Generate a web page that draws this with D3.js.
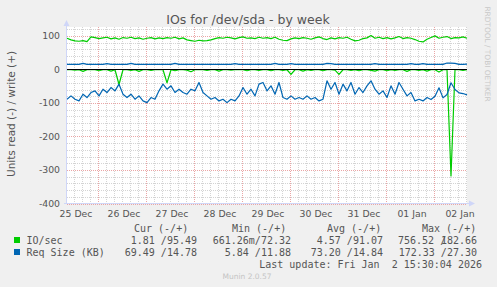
<!DOCTYPE html>
<html lang="en">
<head>
<meta charset="utf-8">
<title>IOs for /dev/sda - by week</title>
<style>
  body { margin: 0; background: #f0f0f0; }
  svg { display: block; }
  text { font-family: 'DejaVu Sans', sans-serif; fill: #555; }
  .mono { font-family: 'DejaVu Sans Mono', monospace; font-size: 10px; }
</style>
<script src="https://d3js.org/d3.v7.min.js"></script>
</head>
<body>
<svg id="chart" width="497" height="287"></svg>
<script>
// one sample every 2 hours, 25 Dec 08:30 -> 02 Jan 16:30 (UTC)
var startTime = Date.UTC(2025, 11, 25, 8, 30);
var stepHours = 2;

// IO/sec, write (+)
var ioWrite = [93,88,85,84,86,83,97,95,92,94,96,91,94,90,95,93,96,92,94,90,93,95,91,94,92,
  95,93,96,91,94,88,86,84,87,85,86,88,92,95,93,96,94,91,95,97,93,94,92,96,93,
  95,92,96,90,87,86,91,94,92,95,93,90,94,97,92,89,94,91,95,93,96,90,85,87,92,
  94,101,93,96,92,95,91,94,98,92,95,93,89,84,82,90,95,100,93,96,98,92,95,94,97,93];
// IO/sec, read (-)
var ioRead = [1,1,2,1,6,1,1,1,4,1,1,5,1,45,1,1,3,1,6,1,1,3,1,1,1,
  40,1,4,1,1,2,7,1,1,1,3,1,1,5,1,1,2,1,1,1,4,1,1,3,1,
  1,4,1,1,3,1,15,1,1,5,1,3,1,1,4,1,1,2,15,1,1,3,1,4,1,
  1,3,5,1,1,4,1,3,1,1,6,1,1,3,1,5,1,1,8,1,1,318,1,1,3,1];
// Req Size (KB), write (+)
var sizeWrite = [15,15,15,15,18,15,15,15,15,15,17,15,15,15,15,15,18,15,15,15,15,15,15,15,15,
  15,15,18,15,15,15,15,15,15,15,15,15,15,15,15,15,15,17,15,15,15,15,15,15,15,
  15,15,18,15,15,15,17,15,15,15,15,15,15,15,15,18,17,15,15,15,15,15,15,15,15,
  15,15,17,15,15,15,15,15,15,15,15,17,15,15,17,15,15,15,15,15,19,19,18,15,15,16];
// Req Size (KB), read (-)
var sizeRead = [89,79,89,94,74,84,69,64,79,59,69,54,64,44,74,84,74,89,79,94,99,84,89,64,44,
  59,49,69,59,69,74,59,64,39,69,79,89,84,94,89,99,89,94,79,54,74,59,79,44,39,
  64,49,74,39,84,89,79,89,84,89,79,89,84,94,89,34,59,39,74,44,64,39,74,54,69,
  49,34,59,74,64,84,49,74,39,59,79,69,94,89,94,84,90,80,55,85,75,40,60,70,72,76];

var yTicks = [-400, -300, -200, -100, 0, 100];
var legendNames = ["IO/sec", "Req Size (KB)"];
var legendColors = ["#00cc00", "#0066b3"];
var legendCur = ["1.81 /95.49", "69.49 /14.78"];
var legendMin = ["661.26m/72.32", "5.84 /11.88"];
var legendAvg = ["4.57 /91.07", "73.20 /14.84"];
var legendMax = ["756.52 /182.66", "172.33 /27.30"];

var svg = d3.select("#chart");
var t0 = new Date(startTime);
var t1 = d3.utcHour.offset(t0, 200);
var x = d3.scaleUtc().domain([t0, t1]).range([67, 467]);
var y = d3.scaleLinear().domain([-400, 125]).range([203.5, 27.5]);
function px(v) { return Math.round(v) + 0.5; }
function timeAt(i) { return d3.utcHour.offset(t0, i * stepHours); }

svg.append("rect").attr("width", 497).attr("height", 287).attr("fill", "#f0f0f0");
svg.append("rect").attr("x", 67).attr("y", 27).attr("width", 400).attr("height", 177).attr("fill", "#fff");

// minor grid
var g = svg.append("g").attr("stroke-width", 1).attr("stroke-dasharray", "1,1");
d3.range(-400, 121, 20).filter(function (v) { return v % 100 != 0; }).forEach(function (v) {
  g.append("line").attr("x1", 67).attr("x2", 467).attr("y1", px(y(v))).attr("y2", px(y(v))).attr("stroke", "#d4d4d4");
});
x.ticks(d3.utcHour.every(4)).filter(function (d) { return d.getUTCHours() != 0; }).forEach(function (d) {
  g.append("line").attr("x1", px(x(d))).attr("x2", px(x(d))).attr("y1", 27).attr("y2", 204).attr("stroke", "#d4d4d4");
});
// major grid
yTicks.forEach(function (v) {
  g.append("line").attr("x1", 67).attr("x2", 467).attr("y1", px(y(v))).attr("y2", px(y(v))).attr("stroke", "#eaa6a6");
});
x.ticks(d3.utcDay.every(1)).forEach(function (d) {
  g.append("line").attr("x1", px(x(d))).attr("x2", px(x(d))).attr("y1", 27).attr("y2", 204).attr("stroke", "#eaa6a6");
});

// series
var line = d3.line().x(function (d, i) { return x(timeAt(i)); }).y(function (d) { return y(d); });
var series = [
  {vals: ioRead.map(function (v) { return -v; }), color: "#00cc00"},
  {vals: ioWrite, color: "#00cc00"},
  {vals: sizeRead.map(function (v) { return -v; }), color: "#0066b3"},
  {vals: sizeWrite, color: "#0066b3"}
];
series.forEach(function (s) {
  svg.append("path")
    .attr("d", line(s.vals))
    .attr("fill", "none")
    .attr("stroke", s.color)
    .attr("stroke-width", 1.2)
    .attr("stroke-linejoin", "round");
});
svg.append("line").attr("x1", 67).attr("x2", 467).attr("y1", px(y(0))).attr("y2", px(y(0)))
  .attr("stroke", "#000").attr("stroke-width", 1);

// axes with arrows
svg.append("line").attr("x1", 66.5).attr("x2", 66.5).attr("y1", 204).attr("y2", 24).attr("stroke", "#cfd6f8");
svg.append("line").attr("x1", 64).attr("x2", 470).attr("y1", 203.5).attr("y2", 203.5).attr("stroke", "#cfd6f8");
svg.append("path").attr("d", "M63.5,26 L66.5,20 L69.5,26 Z").attr("fill", "#cfd6f8");
svg.append("path").attr("d", "M469,200.5 L475,203.5 L469,206.5 Z").attr("fill", "#cfd6f8");

// tick labels
yTicks.forEach(function (v) {
  svg.append("text").attr("x", 60).attr("y", y(v) + 3.4).attr("text-anchor", "end")
    .attr("font-size", "9.3px").text(v);
});
var fmt = d3.utcFormat("%d %b");
d3.utcDay.range(d3.utcDay.floor(t0), t1).forEach(function (d) {
  svg.append("text").attr("x", x(d3.utcHour.offset(d, 13))).attr("y", 216.8)
    .attr("text-anchor", "middle").attr("font-size", "9.3px").text(fmt(d));
});

// titles
svg.append("text").attr("x", 248).attr("y", 24).attr("text-anchor", "middle")
  .attr("font-size", "12.5px").text("IOs for /dev/sda - by week");
svg.append("text").attr("transform", "translate(15,114) rotate(-90)").attr("text-anchor", "middle")
  .attr("font-size", "10.5px").text("Units read (-) / write (+)");
svg.append("text").attr("transform", "translate(485,54) rotate(90)").attr("text-anchor", "middle")
  .attr("font-size", "7.4px").style("fill", "#c8c8c8").text("RRDTOOL / TOBI OETIKER");

// legend
var heads = [["Cur (-/+)", 134], ["Min (-/+)", 232], ["Avg (-/+)", 327], ["Max (-/+)", 422]];
heads.forEach(function (h) {
  svg.append("text").attr("class", "mono").attr("x", h[1]).attr("y", 231.5).text(h[0]);
});
legendNames.forEach(function (name, i) {
  var by = 243.5 + i * 12;
  svg.append("rect").attr("x", 14).attr("y", by - 6.5).attr("width", 6).attr("height", 6).attr("fill", legendColors[i]);
  svg.append("text").attr("class", "mono").attr("x", 26.5).attr("y", by).text(name);
  svg.append("text").attr("class", "mono").attr("x", 197).attr("y", by).attr("text-anchor", "end").text(legendCur[i]);
  svg.append("text").attr("class", "mono").attr("x", 291).attr("y", by).attr("text-anchor", "end").text(legendMin[i]);
  svg.append("text").attr("class", "mono").attr("x", 383).attr("y", by).attr("text-anchor", "end").text(legendAvg[i]);
  var mx = legendMax[i];
  if (mx.length > 13) {
    // too wide for the column: rrdtool lets the slash overlap
    var parts = mx.split("/");
    svg.append("text").attr("class", "mono").attr("x", 398).attr("y", by).text(parts[0] + "/");
    svg.append("text").attr("class", "mono").attr("x", 477).attr("y", by).attr("text-anchor", "end").text(parts[1]);
  } else {
    svg.append("text").attr("class", "mono").attr("x", 477).attr("y", by).attr("text-anchor", "end").text(mx);
  }
});
svg.append("text").attr("class", "mono").attr("x", 482).attr("y", 267.5).attr("text-anchor", "end")
  .text("Last update: Fri Jan  2 15:30:04 2026").attr("xml:space", "preserve").style("white-space", "pre");
svg.append("text").attr("x", 247).attr("y", 279).attr("text-anchor", "middle")
  .attr("font-size", "7.5px").style("fill", "#c4c4c4").text("Munin 2.0.57");
</script>
</body>
</html>
